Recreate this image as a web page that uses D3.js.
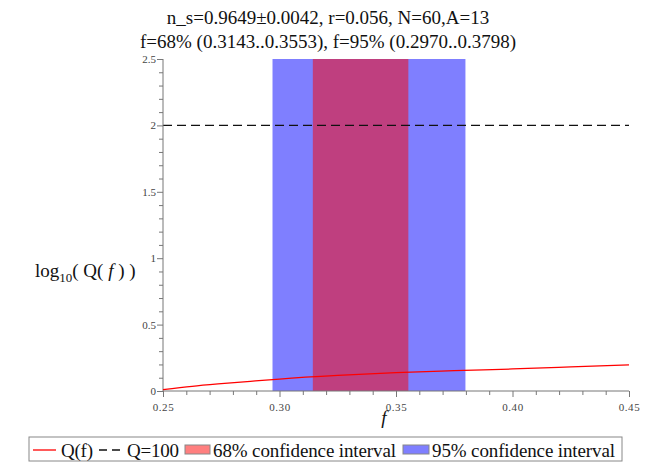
<!DOCTYPE html>
<html lang="en">
<head>
    <meta charset="UTF-8">
    <title>log10 Q(f)</title>
    <script src="https://d3js.org/d3.v7.min.js"></script>
    <style>
        body { margin: 0; background: white; }
        svg { display: block; font-family: "Liberation Serif", "DejaVu Serif", serif; }
        .tick text { fill: #444; font-size: 11px; font-family: "Liberation Serif", serif; }
        .axis path, .axis line { stroke: #777; }
    </style>
</head>
<body>
    <div id="svg-container"></div>
    <script>
        // data
        const titleLines = ['n_s=0.9649\u00b10.0042, r=0.056, N=60,A=13', 'f=68% (0.3143..0.3553), f=95% (0.2970..0.3798)']
        const ci68 = [0.3143, 0.3553]
        const ci95 = [0.2970, 0.3798]
        const qLevel = Math.log10(100)
        const fValues = [0.25, 0.2625, 0.275, 0.2875, 0.30, 0.325, 0.35, 0.375, 0.40, 0.425, 0.45]
        const logQ = [0.01, 0.035, 0.055, 0.073, 0.09, 0.117, 0.138, 0.153, 0.166, 0.181, 0.196]
        const xTicks = [0.25, 0.30, 0.35, 0.40, 0.45]
        const yTicks = [0, 0.5, 1, 1.5, 2, 2.5]

        const WIDTH = 647
        const HEIGHT = 462
        const X0 = 163, X1 = 629, Y0 = 391, Y1 = 59

        const svg = d3.select('#svg-container').append('svg')
            .attr('width', WIDTH).attr('height', HEIGHT)

        const x = d3.scaleLinear().domain([0.25, 0.45]).range([X0, X1])
        const y = d3.scaleLinear().domain([0, 2.5]).range([Y0, Y1])
        const isMajor = (list, d) => list.some(t => Math.abs(t - d) < 1e-6)

        // confidence bands
        svg.append('rect')
            .attr('x', x(ci95[0])).attr('y', y(2.5))
            .attr('width', x(ci95[1]) - x(ci95[0])).attr('height', y(0) - y(2.5))
            .attr('fill', 'blue').attr('fill-opacity', 0.5)
        svg.append('rect')
            .attr('x', x(ci68[0])).attr('y', y(2.5))
            .attr('width', x(ci68[1]) - x(ci68[0])).attr('height', y(0) - y(2.5))
            .attr('fill', 'red').attr('fill-opacity', 0.5)

        // Q=100 line
        svg.append('line')
            .attr('x1', x(0.25)).attr('x2', x(0.45))
            .attr('y1', y(qLevel)).attr('y2', y(qLevel))
            .attr('stroke', '#111').attr('stroke-width', 1.2)
            .attr('stroke-dasharray', '9,5')

        // axes
        const xAxis = svg.append('g').attr('class', 'axis')
            .attr('transform', `translate(0,${Y0})`)
            .call(d3.axisBottom(x).tickValues(d3.range(0.25, 0.4501, 0.01)).tickSize(4)
                .tickFormat(d => isMajor(xTicks, d) ? d3.format('.2f')(d) : ''))
        xAxis.selectAll('.tick line').attr('y2', d => isMajor(xTicks, d) ? 6 : 4)
        xAxis.selectAll('.tick text').attr('y', 12).attr('letter-spacing', 0.6)
        xAxis.select('.domain').attr('d', `M${X0},0H${X1}`)

        const yAxis = svg.append('g').attr('class', 'axis')
            .attr('transform', `translate(${X0},0)`)
            .call(d3.axisLeft(y).tickValues(d3.range(0, 2.5001, 0.1)).tickSize(4)
                .tickFormat(d => isMajor(yTicks, d) ? String(+d.toFixed(1)) : ''))
        yAxis.selectAll('.tick line').attr('x2', d => isMajor(yTicks, d) ? -6 : -4)
        yAxis.select('.domain').attr('d', `M0,${Y0}V${Y1}`)

        // Q(f) curve
        const line = d3.line().x((d, i) => x(fValues[i])).y(d => y(d)).curve(d3.curveMonotoneX)
        svg.append('path').datum(logQ)
            .attr('d', line)
            .attr('fill', 'none').attr('stroke', 'red').attr('stroke-width', 1.3)

        // title
        svg.selectAll('.title').data(titleLines).enter()
            .append('text').attr('class', 'title')
            .attr('x', 328).attr('y', (d, i) => 24 + i * 24)
            .attr('text-anchor', 'middle').attr('font-size', 19).attr('fill', '#111')
            .text(d => d)

        // axis labels
        const yl = svg.append('text').attr('x', 35).attr('y', 277).attr('font-size', 19).attr('fill', '#111')
        yl.append('tspan').text('log')
        yl.append('tspan').attr('font-size', 13).attr('dy', 5).text('10')
        yl.append('tspan').attr('dy', -5).text('( Q( ')
        yl.append('tspan').attr('font-style', 'italic').text('f')
        yl.append('tspan').text(' ) )')

        svg.append('text').attr('x', 384).attr('y', 424)
            .attr('font-size', 19).attr('font-style', 'italic').attr('fill', '#111')
            .attr('text-anchor', 'middle').text('f')

        // legend
        const lg = svg.append('g').attr('font-size', 19).attr('fill', '#111')
        lg.append('rect').attr('x', 29).attr('y', 437).attr('width', 593).attr('height', 24)
            .attr('fill', 'white').attr('stroke', '#888')
        lg.append('line').attr('x1', 33).attr('x2', 56).attr('y1', 450).attr('y2', 450)
            .attr('stroke', 'red').attr('stroke-width', 1.3)
        lg.append('text').attr('x', 61).attr('y', 457).attr('textLength', 32).text('Q(f)')
        lg.append('line').attr('x1', 99).attr('x2', 122).attr('y1', 450).attr('y2', 450)
            .attr('stroke', '#111').attr('stroke-width', 1.3).attr('stroke-dasharray', '8,5')
        lg.append('text').attr('x', 127).attr('y', 457).attr('textLength', 52).text('Q=100')
        lg.append('rect').attr('x', 185).attr('y', 445).attr('width', 25).attr('height', 9)
            .attr('fill', 'red').attr('fill-opacity', 0.5).attr('stroke', '#888')
        lg.append('text').attr('x', 213).attr('y', 457).attr('textLength', 183).text('68% confidence interval')
        lg.append('rect').attr('x', 403).attr('y', 445).attr('width', 26).attr('height', 9)
            .attr('fill', 'blue').attr('fill-opacity', 0.5).attr('stroke', '#888')
        lg.append('text').attr('x', 432).attr('y', 457).attr('textLength', 183).text('95% confidence interval')
    </script>
</body>
</html>
